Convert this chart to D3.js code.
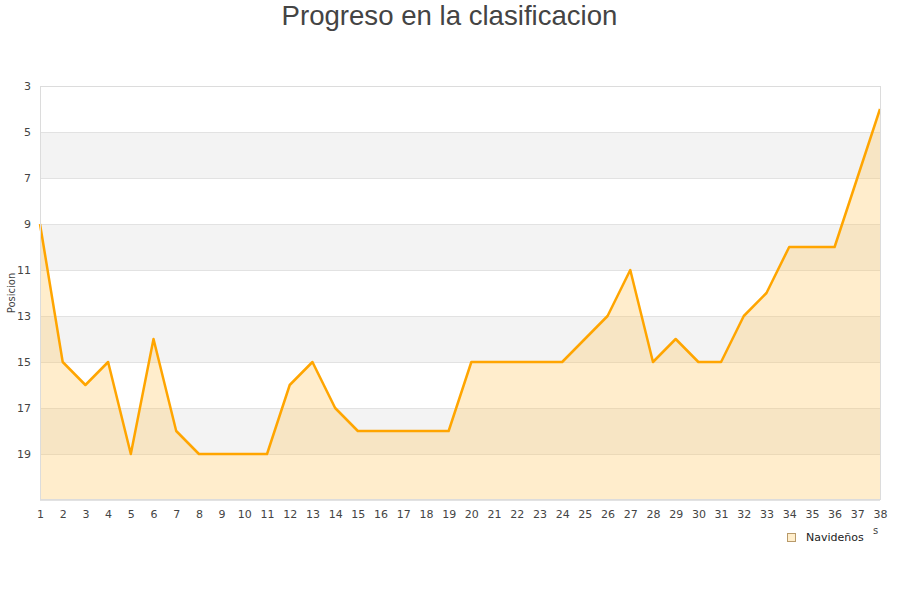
<!DOCTYPE html>
<html><head><meta charset="utf-8">
<script src="https://cdn.jsdelivr.net/npm/d3@7"></script>
<style>body{margin:0;background:#fff}svg{display:block}</style>
</head><body>
<svg id="c" width="900" height="600"></svg>
<script>
const jornadas = d3.range(1, 39);
const posiciones = [9,15,16,15,19,14,18,19,19,19,19,16,15,17,18,18,18,18,18,15,15,15,15,15,14,13,11,15,14,15,15,13,12,10,10,10,7,4];
const yTicks = [3,5,7,9,11,13,15,17,19];
const bandas = [[5,7],[9,11],[13,15],[17,19]];
const titulo = "Progreso en la clasificacion";
const serie = "Navideños";

const svg = d3.select("#c");
const L = 40, R = 880, T = 86, B = 500;
const x = d3.scaleLinear().domain([1, 38]).range([L, R]);
const y = d3.scaleLinear().domain([3, 21]).range([T, B]);

svg.append("text").attr("x", 449.5).attr("y", 25).attr("text-anchor", "middle")
  .attr("font-family", "Liberation Sans, Arial, sans-serif").attr("font-size", 27.6)
  .attr("fill", "#444").text(titulo);

svg.append("rect").attr("x", L).attr("y", T).attr("width", R - L).attr("height", B - T).attr("fill", "#fff");
svg.selectAll("rect.band").data(bandas).enter().append("rect")
  .attr("x", L).attr("width", R - L)
  .attr("y", d => y(d[0])).attr("height", d => y(d[1]) - y(d[0])).attr("fill", "#f3f3f3");

svg.selectAll("line.grid").data(d3.range(3, 22, 2)).enter().append("line")
  .attr("x1", L).attr("x2", R).attr("y1", d => y(d) + 0.5).attr("y2", d => y(d) + 0.5)
  .attr("stroke", "#e2e2e2");

const data = jornadas.map((j, i) => [j, posiciones[i]]);
svg.append("path").datum(data)
  .attr("d", d3.area().x(d => x(d[0])).y0(B).y1(d => y(d[1])))
  .attr("fill", "rgba(255,200,100,0.33)");
svg.append("path").datum(data)
  .attr("d", d3.line().x(d => x(d[0])).y(d => y(d[1])))
  .attr("fill", "none").attr("stroke", "#ffa500").attr("stroke-width", 2.5).attr("stroke-linejoin", "round");

svg.append("rect").attr("x", L + 0.5).attr("y", T + 0.5).attr("width", R - L).attr("height", B - T - 1)
  .attr("fill", "none").attr("stroke", "#dcdcdc");

const tf = "DejaVu Sans, sans-serif";
const yAxis = svg.append("g").attr("transform", `translate(${L},0)`)
  .call(d3.axisLeft(y).tickValues(yTicks).tickSize(0).tickPadding(9));
yAxis.select(".domain").remove();
yAxis.selectAll("text").attr("font-family", tf).attr("font-size", 11).attr("fill", "#444");

const xAxis = svg.append("g").attr("transform", `translate(0,${B})`)
  .call(d3.axisBottom(x).tickValues(jornadas).tickFormat(d3.format("d")).tickSize(0).tickPadding(10));
xAxis.select(".domain").remove();
xAxis.selectAll("text").attr("font-family", tf).attr("font-size", 11).attr("fill", "#444");

svg.append("text").attr("transform", "translate(15,293) rotate(-90)").attr("text-anchor", "middle")
  .attr("font-family", tf).attr("font-size", 10).attr("fill", "#444").text("Posicion");

svg.append("text").attr("x", 873).attr("y", 534).attr("font-family", tf).attr("font-size", 10).attr("fill", "#444").text("s");

svg.append("rect").attr("x", 787.5).attr("y", 533.5).attr("width", 8).attr("height", 8)
  .attr("fill", "#ffeecc").attr("stroke", "#b89a6a");
svg.append("text").attr("x", 806).attr("y", 541).attr("font-family", tf).attr("font-size", 11)
  .attr("fill", "#222").text(serie);
</script>
</body></html>
